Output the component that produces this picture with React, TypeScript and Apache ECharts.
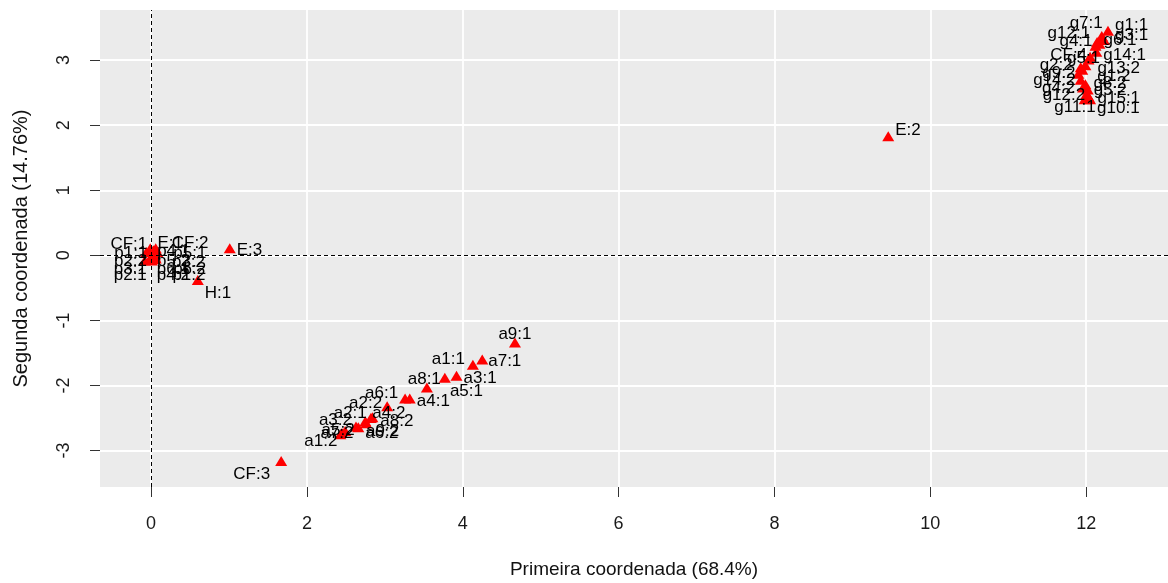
import React, { useEffect, useRef } from "react";
import * as echarts from "echarts";

// ---- data ----
const pointNames = [
  "E:2", "E:3", "H:1", "CF:3",
  "a9:1", "a7:1", "a1:1", "a3:1", "a8:1", "a5:1", "a4:1", "a6:1",
  "a1:2", "a7:2", "a5:2", "a3:2", "a6:2", "a8:2", "a9:2", "a2:1", "a4:2", "a2:2",
  "g1:1", "g7:1", "g3:1", "g6:1", "g12:1", "g4:1", "g14:1", "CF:4", "g5:1",
  "g13:2", "g1:2", "g2:2", "g9:2", "g14:2", "g8:2", "g4:2", "g5:2", "g12:2",
  "g15:1", "g10:1", "g11:1",
  "CF:1", "p1:1", "p2:2", "p3:1", "p2:1",
  "E:1", "p4:1", "p5:2", "p6:1", "p4:2",
  "CF:2", "p5:1", "p3:2", "p6:2", "p1:2",
];
const coordX = [
  9.46, 1.01, 0.60, 1.67,
  4.67, 4.25, 4.13, 3.92, 3.77, 3.54, 3.32, 3.26,
  2.43, 2.45, 2.49, 2.63, 2.66, 2.75, 2.76, 2.82, 2.84, 3.03,
  12.28, 12.20, 12.23, 12.17, 12.14, 12.12, 12.13, 12.05, 12.03,
  11.99, 11.95, 11.93, 11.90, 11.93, 11.99, 11.96, 12.02, 12.00,
  12.03, 12.05, 11.98,
  -0.01, -0.06, 0.00, 0.01, -0.08,
  0.03, 0.04, 0.05, 0.06, 0.01,
  0.06, 0.08, 0.05, 0.04, 0.03,
];
const coordY = [
  1.83, 0.11, -0.38, -3.16,
  -1.34, -1.60, -1.68, -1.85, -1.88, -2.03, -2.20, -2.20,
  -2.75, -2.73, -2.70, -2.63, -2.64, -2.55, -2.58, -2.50, -2.49, -2.32,
  3.45, 3.37, 3.31, 3.25, 3.28, 3.22, 3.13, 3.05, 3.01,
  2.92, 2.85, 2.89, 2.79, 2.70, 2.63, 2.58, 2.55, 2.47,
  2.44, 2.40, 2.40,
  0.11, 0.05, -0.02, -0.03, -0.08,
  0.08, 0.03, -0.02, -0.05, -0.08,
  0.11, 0.05, 0.00, -0.03, -0.06,
];
const xTicks = [0, 2, 4, 6, 8, 10, 12];
const yTicks = [-3, -2, -1, 0, 1, 2, 3];
const xTitle = "Primeira coordenada (68.4%)";
const yTitle = "Segunda coordenada (14.76%)";

// ---- label placement (style only): [align, dx, dy] ----
const labelPlace: Record<string, [string, number, number]> = {
  "E:2": ["left", 7, -7], "E:3": ["left", 7, 1], "H:1": ["left", 7, 12], "CF:3": ["right", -11, 13],
  "a9:1": ["center", 0, -9], "a7:1": ["left", 6, 1], "a1:1": ["right", -8, -6], "a3:1": ["left", 7, 2],
  "a8:1": ["right", -4, 1], "a5:1": ["left", 23, 3], "a4:1": ["left", 7, 2], "a6:1": ["right", -7, -6],
  "a1:2": ["right", -3, 6], "a7:2": ["center", -5, 0], "a5:2": ["center", -7, -2], "a3:2": ["right", -4, -7],
  "a6:2": ["left", 7, 5], "a8:2": ["left", 15, -1], "a9:2": ["left", 0, 7], "a2:1": ["right", -4, -6],
  "a4:2": ["left", 0, -5], "a2:2": ["right", -5, -4],
  "g1:1": ["left", 7, -6], "g7:1": ["right", 1, -14], "g3:1": ["left", 11, -5], "g6:1": ["left", 4, -4],
  "g12:1": ["right", -7, -9], "g4:1": ["right", -3, -5], "g14:1": ["left", 7, 3], "CF:4": ["right", -3, -2],
  "g5:1": ["center", -5, -2], "g13:2": ["left", 12, 2], "g1:2": ["left", 15, 6], "g2:2": ["right", -8, -3],
  "g9:2": ["right", -3, -1], "g14:2": ["right", -5, 0], "g8:2": ["left", 8, -2], "g4:2": ["right", -8, 0],
  "g5:2": ["left", 6, 0], "g12:2": ["right", -1, 0], "g15:1": ["left", 9, 1], "g10:1": ["left", 7, 8],
  "g11:1": ["right", 11, 7],
  "CF:1": ["right", -3, -5], "p1:1": ["right", 1, 0], "p2:2": ["right", -4, 4], "p3:1": ["right", -5, 11],
  "p2:1": ["right", 2, 14],
  "E:1": ["left", 4, -8], "p4:1": ["left", 3, -3], "p5:2": ["left", 2, 4], "p6:1": ["left", 1, 10],
  "p4:2": ["left", 5, 14],
  "CF:2": ["left", 16, -6], "p5:1": ["left", 16, 0], "p3:2": ["left", 17, 6], "p6:2": ["left", 19, 11],
  "p1:2": ["left", 19, 15],
};

const FONT = "'Liberation Sans', Arial, Helvetica, sans-serif";

export default function App() {
  const ref = useRef<HTMLDivElement>(null);
  useEffect(() => {
    if (!ref.current) return;
    const chart = echarts.init(ref.current, undefined, { renderer: "svg" });
    const data = pointNames.map((n, i) => {
      const p = labelPlace[n] || ["left", 7, 0];
      return {
        name: n,
        value: [coordX[i], coordY[i]],
        label: { align: p[0], offset: [p[1], p[2]] },
      };
    });
    chart.setOption({
      animation: false,
      grid: {
        left: 100, right: 0, top: 10, bottom: 93,
        show: true, backgroundColor: "#EBEBEB", borderWidth: 0,
      },
      xAxis: {
        type: "value", min: -0.655, max: 13.05, splitNumber: 7,
        axisLine: { show: true, onZero: false, lineStyle: { color: "rgba(0,0,0,0)" } },
        axisTick: { show: true, length: 10, lineStyle: { color: "#333", width: 1 }, customValues: xTicks },
        axisLabel: { customValues: xTicks, margin: 27, color: "#1a1a1a", fontSize: 18, fontFamily: FONT },
        splitLine: { show: true, lineStyle: { color: "#FFFFFF", width: 1.8 } },
        name: xTitle, nameLocation: "middle", nameGap: 72,
        nameTextStyle: { color: "#111", fontSize: 19, fontFamily: FONT },
      },
      yAxis: {
        type: "value", min: -3.56, max: 3.77, splitNumber: 7,
        axisLine: { show: true, onZero: false, lineStyle: { color: "rgba(0,0,0,0)" } },
        axisTick: { show: true, length: 10, lineStyle: { color: "#333", width: 1 }, customValues: yTicks },
        axisLabel: { customValues: yTicks, margin: 28, rotate: 90, color: "#1a1a1a", fontSize: 18, fontFamily: FONT },
        splitLine: { show: true, lineStyle: { color: "#FFFFFF", width: 1.8 } },
        name: yTitle, nameLocation: "middle", nameGap: 70,
        nameTextStyle: { color: "#111", fontSize: 20, fontFamily: FONT },
      },
      series: [
        {
          type: "scatter",
          symbol: "triangle",
          symbolSize: [12, 10],
          itemStyle: { color: "#FF0000", opacity: 1 },
          label: {
            show: true, position: "inside", formatter: "{b}", verticalAlign: "middle",
            color: "#000", opacity: 1, fontSize: 17, fontFamily: FONT,
          },
          markLine: {
            silent: true, symbol: "none", label: { show: false },
            lineStyle: { color: "#000", type: [4, 3], width: 1, opacity: 1 },
            data: [{ xAxis: 0 }, { yAxis: 0 }],
          },
          data,
        },
      ],
    });
    return () => chart.dispose();
  }, []);
  return (
    <div
      ref={ref}
      style={{ position: "fixed", left: 0, top: 0, width: 1168, height: 583 }}
    />
  );
}
